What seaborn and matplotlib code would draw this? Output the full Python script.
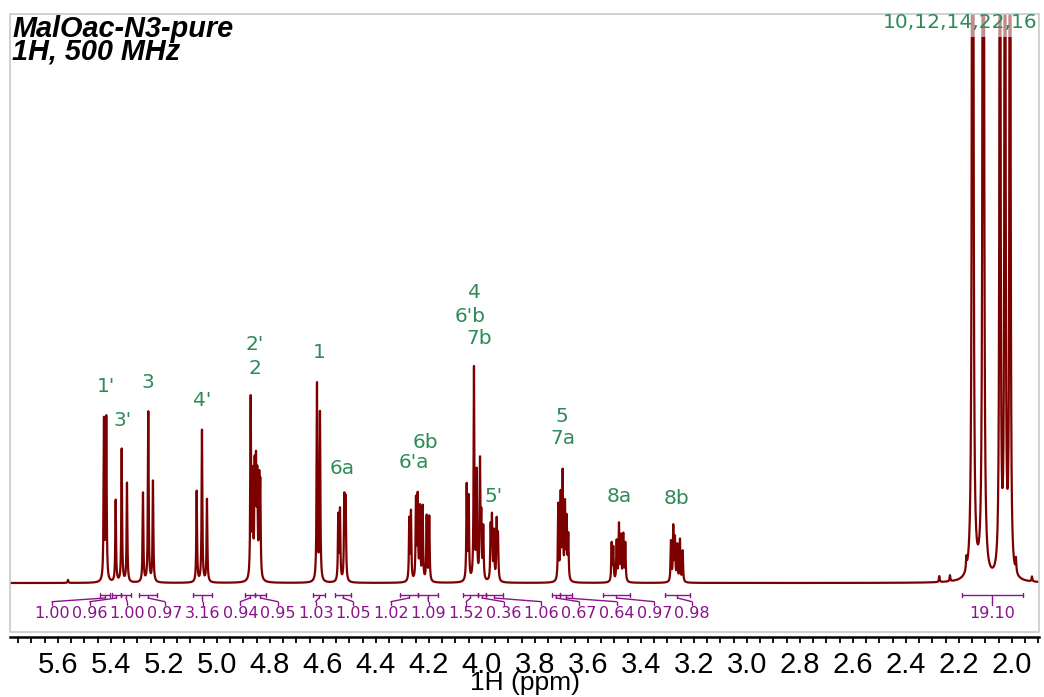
import numpy as np
import pandas as pd
import matplotlib
matplotlib.use("Agg")
import matplotlib.pyplot as plt
import seaborn as sns
from matplotlib.patches import Rectangle
from matplotlib.ticker import MultipleLocator, FormatStrFormatter

# ---------------- data ----------------
# resonance lines: chemical shift (ppm) and apparent intensity (arbitrary units, baseline = 0)
peak_ppm = [
    5.5623,
    5.4264, 5.4177,
    5.3823, 5.3596, 5.3396,
    5.2792, 5.2592, 5.2415,
    5.0766, 5.0566, 5.0377,
    4.8728, 4.8653, 4.8577, 4.8528, 4.8479, 4.8404, 4.8366,
    4.6226, 4.6113,
    4.5423, 4.5358, 4.5196, 4.5143,
    4.2743, 4.2679, 4.2491, 4.2426, 4.2340, 4.2238, 4.2087, 4.1989,
    4.0577, 4.0502, 4.0302, 4.0200, 4.0075, 4.0026, 3.9951,
    3.9672, 3.9623, 3.9547, 3.9445, 3.9396,
    3.7121, 3.7030, 3.6955, 3.6868, 3.6804, 3.6743,
    3.5106, 3.5045, 3.4917, 3.4830, 3.4755, 3.4668, 3.4592,
    3.2868, 3.2781, 3.2717, 3.2630, 3.2528, 3.2426,
    2.2743, 2.2340, 2.1720,
    2.1483, 2.1083, 2.0453, 2.0264, 2.0075,
    1.9850, 1.9245,
]
peak_height = [
    3,
    160, 162,
    82, 133, 99,
    89, 170, 101,
    91, 152, 83,
    180, 100, 105, 105, 95, 90, 86,
    197, 168,
    65, 70, 82, 80,
    61, 68, 80, 82, 72, 74, 65, 65,
    95, 82, 212, 106, 116, 58, 52,
    52, 61, 48, 59, 44,
    76, 84, 106, 74, 59, 44,
    38, 33, 40, 56, 44, 46, 38,
    40, 54, 42, 36, 42, 31,
    6, 6, 12,
    2600, 2600, 1400, 1400, 1400,
    14, 5,
]
line_hwhm = 0.0017

# integrals
integral_start = [5.4415, 5.3962, 5.3623, 5.2943, 5.0906, 4.8943, 4.8566, 4.6377, 4.5547,
                  4.3094, 4.2415, 4.0717, 4.0151, 3.9849, 3.7358, 3.7057, 3.5434, 3.3094, 2.1887]
integral_end = [5.4038, 5.3623, 5.3245, 5.2264, 5.0189, 4.8566, 4.8151, 4.5925, 4.4943,
                4.2415, 4.1660, 4.0151, 3.9849, 3.9208, 3.7057, 3.6604, 3.4415, 3.2151, 1.9585]
integral_values = ["1.00", "0.96", "1.00", "0.97", "3.16", "0.94", "0.95", "1.03", "1.05",
                   "1.02", "1.09", "1.52", "0.36", "1.06", "0.67", "0.64", "0.97", "0.98", "19.10"]

# assignments
assign_text = ["1'", "3'", "3", "4'", "2'", "2", "1", "6a", "6b", "6'a", "4", "6'b", "7b",
               "5'", "5", "7a", "8a", "8b", "10,12,14,22,16"]
assign_ppm = [5.4189, 5.3558, 5.2615, 5.0577, 4.8566, 4.8566, 4.6151, 4.5294, 4.2151, 4.2566,
              4.0291, 4.0453, 4.0113, 3.9547, 3.6992, 3.6955, 3.4830, 3.2642, 2.1962]
assign_level = [197, 163, 201, 183, 238, 214, 231, 114, 141, 120, 290, 267, 245,
                87, 166, 145, 87, 85, 560]

title_lines = ["MalOac-N3-pure", "1H, 500 MHz"]
x_label = "1H (ppm)"

# ---------------- build spectrum ----------------
grid = np.arange(1.85, 5.85, 0.0002)
intensity = np.zeros_like(grid)
for p, h in zip(peak_ppm, peak_height):
    intensity += h / (1.0 + ((grid - p) / line_hwhm) ** 2)
spec = pd.DataFrame({"ppm": grid, "intensity": intensity})

# ---------------- figure ----------------
sns.set_theme(style="white")
plt.rcParams["font.family"] = ["DejaVu Sans"]

W, H = 1044, 697
fig = plt.figure(figsize=(W / 100, H / 100), dpi=100)
box_l, box_r, box_t, box_b = 10, 1039, 14, 632
ax = fig.add_axes([box_l / W, 1 - box_b / H, (box_r - box_l) / W, (box_b - box_t) / H])
base_px = 583
ax.set_ylim(base_px - box_b, base_px - box_t)
ax.set_xlim(5.7811, 1.8981)

line_col = "#7d0000"
sns.lineplot(data=spec, x="ppm", y="intensity", ax=ax, color=line_col, linewidth=1.6,
             estimator=None, sort=False)

# light band marking off-scale peaks
ax.axhspan(base_px - 37, base_px - box_t, color="white", alpha=0.55, lw=0, zorder=3)

# box
for s in ["top", "left", "right"]:
    ax.spines[s].set_visible(False)
ax.add_patch(Rectangle((0, 0), 1, 1, transform=ax.transAxes, fill=False,
                       edgecolor="#c9c9c9", lw=1.2, clip_on=False, zorder=5))
ax.spines["bottom"].set_position(("outward", 3.5))
ax.spines["bottom"].set_color("black")
ax.spines["bottom"].set_linewidth(1.8)

ax.xaxis.set_major_locator(MultipleLocator(0.2))
ax.xaxis.set_minor_locator(MultipleLocator(0.05))
ax.xaxis.set_major_formatter(FormatStrFormatter("%.1f"))
ax.tick_params(axis="x", which="both", direction="out", length=4, width=1.3, color="black",
               bottom=True)
ax.tick_params(axis="x", which="major", pad=6.5, labelsize=21, labelcolor="black")
for t in ax.get_xticklabels():
    t.set_family("Liberation Sans")
ax.set_yticks([])
ax.set_ylabel("")
ax.set_xlabel(x_label, fontsize=19, family="Liberation Sans", color="black", labelpad=-6)

# integrals
int_col = "#8a138a"
px_per_ppm = 265.0
lab_start = 5.6226
lab_step = 37.65 / px_per_ppm
yb, ytick = base_px - 595, 2
for i, (s, e, v) in enumerate(zip(integral_start, integral_end, integral_values)):
    mid = 0.5 * (s + e)
    lx = lab_start - i * lab_step if i < len(integral_values) - 1 else mid
    kw = dict(color=int_col, lw=1.0, zorder=4)
    ax.plot([s, e], [yb, yb], **kw)
    ax.plot([s, s], [yb + ytick, yb - ytick], **kw)
    ax.plot([e, e], [yb + ytick, yb - ytick], **kw)
    ax.plot([mid, mid], [yb, yb - 3], **kw)
    ax.plot([mid, lx], [yb - 3, yb - 6.7], **kw)
    ax.plot([lx, lx], [yb - 6.7, yb - 9.5], **kw)
    ax.text(lx, base_px - 614, v, ha="center", va="center", fontsize=11.5, color=int_col, zorder=6)

# assignments
green = "#2e8b57"
for t, p, lv in zip(assign_text, assign_ppm, assign_level):
    ax.text(p, lv, t, ha="center", va="center", fontsize=14.5, color=green, zorder=6)

# title
fig.text(12 / W, 1 - 37 / H, title_lines[0], ha="left", va="baseline", fontsize=20.8,
         family="Liberation Sans", weight="bold", style="italic", color="black")
fig.text(12 / W, 1 - 60 / H, title_lines[1], ha="left", va="baseline", fontsize=20.8,
         family="Liberation Sans", weight="bold", style="italic", color="black")

fig.savefig("out.png", dpi=100)
